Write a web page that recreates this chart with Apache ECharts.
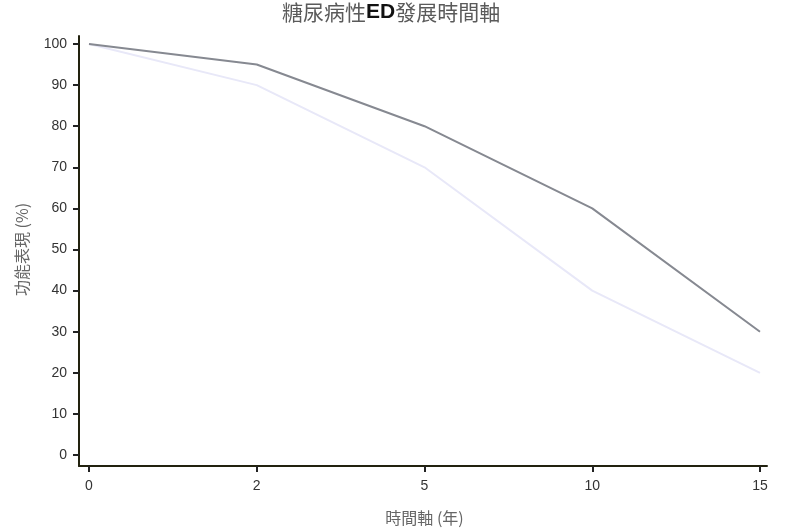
<!DOCTYPE html>
<html><head><meta charset="utf-8">
<script src="https://cdn.jsdelivr.net/npm/echarts@6/dist/echarts.min.js"></script>
<style>html,body{margin:0;padding:0;background:#fff}#c{width:800px;height:532px}</style>
</head><body><div id="c"></div>
<script>
const years = ['0', '2', '5', '10', '15'];
const seriesA = [100, 95, 80, 60, 30];
const seriesB = [100, 90, 70, 40, 20];
const yTicks = {min: 0, max: 100, interval: 10};

const chart = echarts.init(document.getElementById('c'));
const font = 'Liberation Sans, Arial, sans-serif';
const cjk = '"Noto Sans CJK TC", "Noto Sans CJK SC", sans-serif';
const lineAxis = (g) => ({type: 'value', gridIndex: g, axisLine: {show: true, lineStyle: {color: '#22220f', width: 2}},
  axisTick: {show: false}, axisLabel: {show: false}, splitLine: {show: false}});
const hiddenVal = (g) => ({type: 'value', gridIndex: g, show: false, min: yTicks.min, max: yTicks.max});
chart.setOption({
  animation: false,
  title: {
    text: '{a|糖尿病性}{b|ED}{a|發展時間軸}',
    left: 277, top: -3,
    textStyle: {
      fontWeight: 'normal',
      rich: {
        a: {fontFamily: cjk, fontSize: 21, color: '#5a5a5a', fontWeight: 'normal'},
        b: {fontFamily: font, fontSize: 21, color: '#111', fontWeight: 'bold'}
      }
    }
  },
  grid: [
    {left: 89, right: 40, top: 44, bottom: 77},
    {left: 79, right: 33, top: 36, bottom: 66},
    {left: 89, right: 40, top: 44, bottom: 66},
    {left: 79, right: 40, top: 44, bottom: 77}
  ],
  xAxis: [
    {type: 'category', gridIndex: 0, data: years, boundaryGap: false, show: false},
    lineAxis(1),
    {type: 'category', gridIndex: 2, data: years, boundaryGap: false,
     axisLine: {show: false},
     axisTick: {show: true, alignWithLabel: true, length: 6, lineStyle: {color: '#222', width: 2}},
     axisLabel: {color: '#333', fontSize: 14, fontFamily: font, margin: 13},
     name: '時間軸 (年)', nameLocation: 'middle', nameGap: 44,
     nameTextStyle: {fontFamily: cjk, fontSize: 16, color: '#666'}},
    {type: 'value', gridIndex: 3, show: false}
  ],
  yAxis: [
    hiddenVal(0),
    lineAxis(1),
    hiddenVal(2),
    {type: 'value', gridIndex: 3, min: yTicks.min, max: yTicks.max, interval: yTicks.interval,
     axisLine: {show: false},
     axisTick: {show: true, length: 6, lineStyle: {color: '#222', width: 2}},
     axisLabel: {color: '#333', fontSize: 14, fontFamily: font, margin: 12},
     splitLine: {show: false},
     name: '功能表現 (%)', nameLocation: 'middle', nameGap: 49, nameRotate: 90,
     nameTextStyle: {fontFamily: cjk, fontSize: 16, color: '#666'}}
  ],
  series: [
    {type: 'line', xAxisIndex: 0, yAxisIndex: 0, data: seriesB, symbol: 'none',
     lineStyle: {color: '#e8e8f8', width: 2}},
    {type: 'line', xAxisIndex: 0, yAxisIndex: 0, data: seriesA, symbol: 'none',
     lineStyle: {color: '#868991', width: 2}}
  ]
});
</script></body></html>
